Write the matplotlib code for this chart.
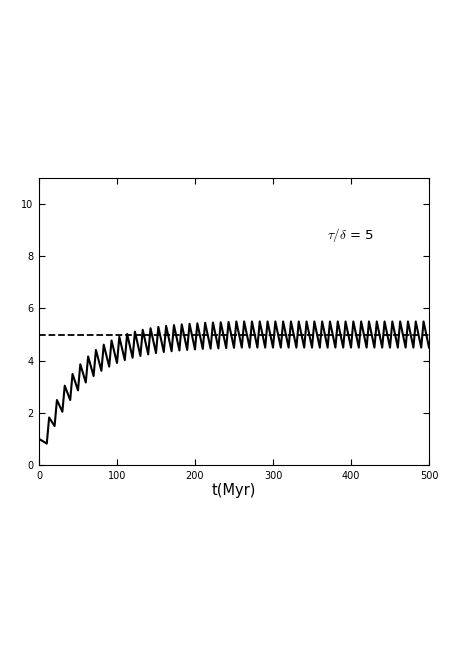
import numpy as np
import matplotlib
matplotlib.use('Agg')
import matplotlib.pyplot as plt

# pulse times (Myr), value right after each pulse, value just before the next pulse
pulse_t = list(range(0, 500, 10))
peaks = [1.00, 1.82, 2.49, 3.04, 3.49, 3.86, 4.16, 4.41, 4.61, 4.77,
         4.91, 5.02, 5.11, 5.18, 5.24, 5.29, 5.33, 5.36, 5.39, 5.41,
         5.43, 5.45, 5.46, 5.47, 5.48] + [5.50] * 25
troughs = [0.82, 1.49, 2.04, 2.49, 2.86, 3.16, 3.41, 3.61, 3.77, 3.91,
           4.02, 4.11, 4.18, 4.24, 4.29, 4.33, 4.36, 4.39, 4.41, 4.43,
           4.45, 4.46, 4.47, 4.48, 4.49] + [4.50] * 25
period = 10
rise = 3.0
steady = 5.0
label = r'$\tau/\delta$ = 5'

t, y = [], []
for i, (t0, p, tr) in enumerate(zip(pulse_t, peaks, troughs)):
    t.append(t0 if i == 0 else t0 + rise)
    y.append(p)
    t.append(t0 + period)
    y.append(tr)

plt.rcParams['mathtext.fontset'] = 'cm'
fig = plt.figure(figsize=(4.63, 6.56), dpi=100)
ax = fig.add_axes([0.0842, 0.2912, 0.8424, 0.4375])
ax.plot(t, y, color='k', lw=1.5)
ax.plot([0, 500], [steady, steady], 'k--', lw=1.3)
ax.set_xlim(0, 500)
ax.set_ylim(0, 11)
ax.set_xticks(range(0, 501, 100))
ax.set_yticks(range(0, 11, 2))
ax.tick_params(direction='in', top=True, right=True, labelsize=7, length=4, pad=4)
ax.set_xlabel('t(Myr)', fontsize=10.5, labelpad=2)
ax.text(400, 8.8, label, fontsize=9.5, ha='center', va='center')
fig.savefig('out.png', dpi=100, facecolor='white')
